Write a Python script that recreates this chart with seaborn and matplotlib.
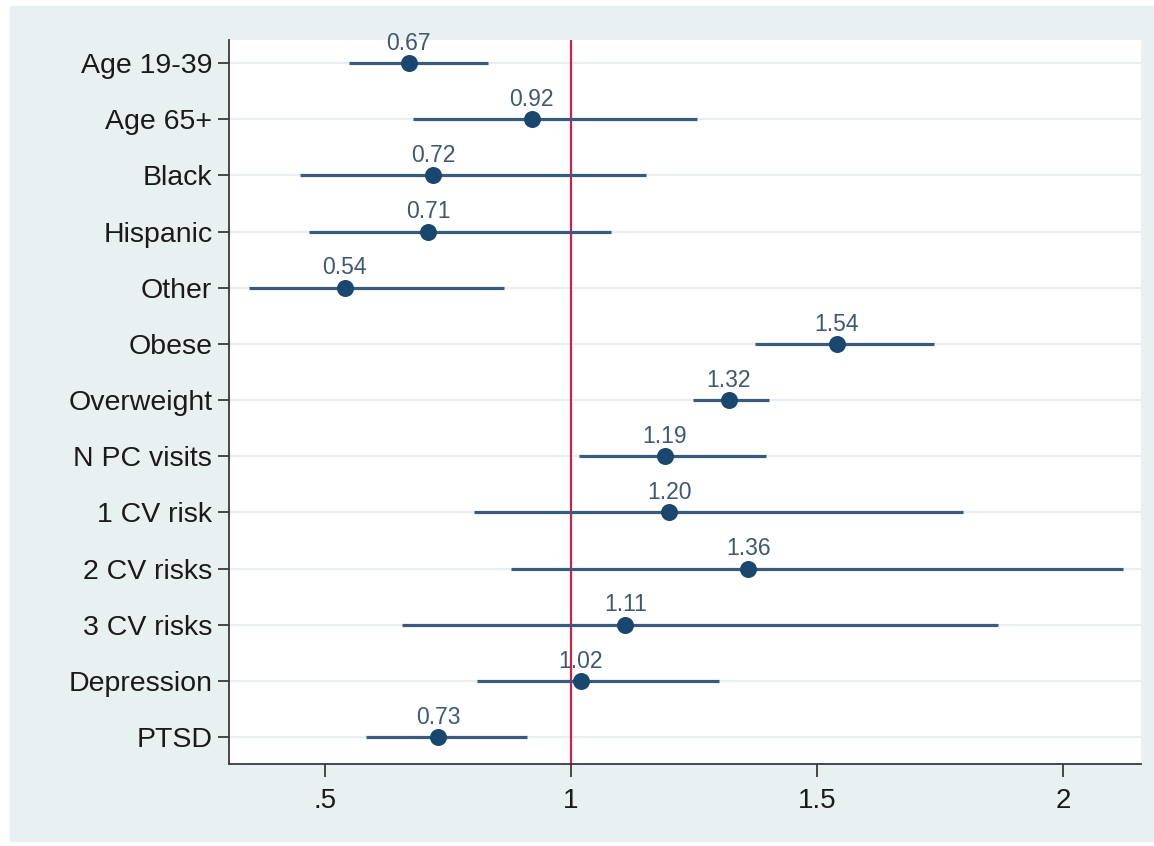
import numpy as np
import pandas as pd
import matplotlib
matplotlib.use("Agg")
import matplotlib.pyplot as plt
from matplotlib.patches import Rectangle
import seaborn as sns

# odds ratios with 95% CI
labels = ["Age 19-39", "Age 65+", "Black", "Hispanic", "Other", "Obese",
          "Overweight", "N PC visits", "1 CV risk", "2 CV risks",
          "3 CV risks", "Depression", "PTSD"]
odds = [0.67, 0.92, 0.72, 0.71, 0.54, 1.54, 1.32, 1.19, 1.20, 1.36, 1.11, 1.02, 0.73]
ci_low = [0.549, 0.679, 0.449, 0.467, 0.346, 1.374, 1.248, 1.016, 0.803, 0.878, 0.657, 0.809, 0.583]
ci_high = [0.831, 1.256, 1.152, 1.082, 0.864, 1.738, 1.402, 1.396, 1.797, 2.122, 1.868, 1.301, 0.911]
xticks = [0.5, 1, 1.5, 2]
xtick_labels = [".5", "1", "1.5", "2"]

df = pd.DataFrame({"label": labels, "or": odds, "lo": ci_low, "hi": ci_high})
df["pos"] = len(df) - 1 - np.arange(len(df))

sns.set_style("white")
plt.rcParams["font.family"] = ["Liberation Sans", "DejaVu Sans"]

bg = "#e9f0f2"
navy = "#1a476f"
line_col = "#3a5a7c"
text_col = "#3e5874"

fig = plt.figure(figsize=(11.54, 8.46), dpi=100, facecolor="white")
fig.patches.append(Rectangle((10 / 1154, 1 - 841 / 846), 1 - 10 / 1154, (841 - 6) / 846,
                             transform=fig.transFigure, color=bg, zorder=-10))
ax = fig.add_axes([229 / 1154, 1 - 764 / 846, (1141 - 229) / 1154, (764 - 40) / 846])
ax.set_facecolor("white")

# gridlines at each row
for p in df["pos"]:
    ax.axhline(p, color="#e8eef0", lw=1.5, zorder=0)

ax.axvline(1, color="#d0204a", lw=1.6, zorder=1)
ax.hlines(df["pos"], df["lo"], df["hi"], color=line_col, lw=2.3, zorder=2)
sns.scatterplot(data=df, x="or", y="pos", ax=ax, s=150, color=navy,
                edgecolor=navy, linewidth=0, zorder=3, legend=False)

for _, r in df.iterrows():
    ax.annotate(f"{r['or']:.2f}", (r["or"], r["pos"]), xytext=(0, 6),
                textcoords="offset points", ha="center", va="bottom",
                fontsize=16.5, color=text_col)

ax.set_xlim(0.305, 2.158)
ax.set_ylim(-0.48, len(df) - 1 + 0.41)
ax.set_yticks(df["pos"])
ax.set_yticklabels(df["label"])
ax.set_xticks(xticks)
ax.set_xticklabels(xtick_labels)
ax.set_xlabel("")
ax.set_ylabel("")

for s in ["top", "right"]:
    ax.spines[s].set_visible(False)
for s in ["left", "bottom"]:
    ax.spines[s].set_color("#3a3a3a")
    ax.spines[s].set_linewidth(1.3)

ax.tick_params(axis="y", direction="out", length=8, width=1.3, color="#3a3a3a",
               labelsize=20.5, labelcolor="#1a1a1a", pad=4, left=True)
ax.tick_params(axis="x", direction="out", length=9, width=1.3, color="#3a3a3a",
               labelsize=20, labelcolor="#1a1a1a", pad=8, bottom=True)

fig.savefig("out.png", dpi=100, facecolor="white")
